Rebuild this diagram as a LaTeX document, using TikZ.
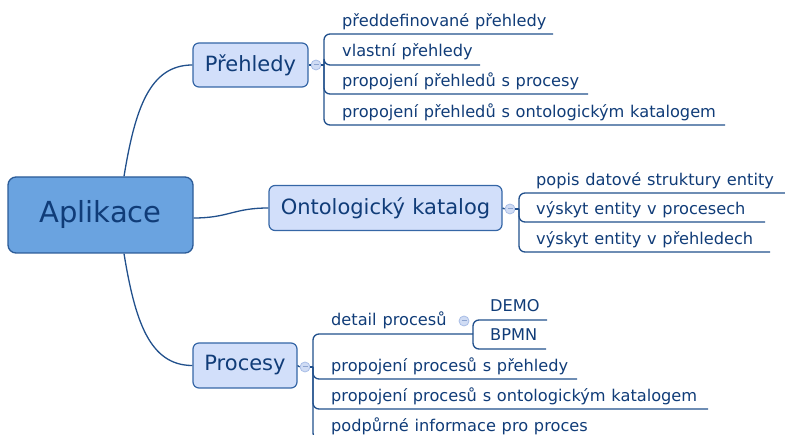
\documentclass[tikz,border=0pt]{standalone}
\usepackage{fontspec}
\setmainfont[WordSpace=1.12]{DejaVu Sans}
\definecolor{linec}{HTML}{21508C}
\definecolor{txtc}{HTML}{103C78}
\definecolor{mainfill}{HTML}{6AA3E0}
\definecolor{mainborder}{HTML}{2C5C98}
\definecolor{subfill}{HTML}{D2DFFA}
\definecolor{subborder}{HTML}{3566A6}
\definecolor{colfill}{HTML}{D0DCF4}
\definecolor{coldraw}{HTML}{A8BDE6}
\definecolor{colminus}{HTML}{8CA4D0}
\tikzset{
  mainbox/.style={draw=mainborder, fill=mainfill, line width=1.3pt, rounded corners=8pt,
    text=txtc, font=\fontsize{29}{34}\selectfont, inner sep=0pt},
  subbox/.style={draw=subborder, fill=subfill, line width=1.2pt, rounded corners=6pt,
    text=txtc, font=\fontsize{21}{25}\selectfont, inner sep=0pt},
  leaf/.style={anchor=base west, inner sep=0pt, text=txtc, font=\fontsize{16.2}{19}\selectfont},
  conn/.style={draw=linec, line width=1.3pt},
  elbow/.style={conn, rounded corners=6pt},
  collapse/.style={circle, draw=coldraw, fill=colfill, line width=0.8pt, minimum size=10pt, inner sep=0pt,
    path picture={\draw[colminus, line width=1pt] ([xshift=-2.5pt]path picture bounding box.center) -- ([xshift=2.5pt]path picture bounding box.center);}}
}
\begin{document}
\begin{tikzpicture}[x=1pt, y=-1pt]
\useasboundingbox (0,0) rectangle (785,435);
\clip (0,0) rectangle (785,435);

% main nodes
\node[mainbox, minimum width=185pt, minimum height=76pt] (apl) at (100.5,215) {Aplikace};
\node[subbox, minimum width=115pt, minimum height=44pt] (preh) at (250.5,65) {Přehledy};
\node[subbox, minimum width=233pt, minimum height=45pt] (onto) at (385.5,208) {Ontologický katalog};
\node[subbox, minimum width=104pt, minimum height=45pt] (proc) at (245,365.5) {Procesy};

% connectors from center
\draw[conn] ([xshift=23.5pt]apl.north) .. controls +(11,-67) and +(-43,0) .. (preh.west);
\draw[conn] ([xshift=23.5pt]apl.south) .. controls +(11,67) and +(-43,0) .. (proc.west);
\draw[conn] ([yshift=-3pt]apl.east) .. controls +(35,0) and +(-35,0) .. (onto.west);

% collapse buttons
\node[collapse] (c1) at (316,65) {};
\node[collapse] (c2) at (510,209) {};
\node[collapse] (c3) at (305,367) {};
\node[collapse] (c4) at (464,321) {};

% junctions
\coordinate (j1) at (324,65);
\coordinate (j2) at (519,209);
\coordinate (j3) at (313,367);
\coordinate (j4) at (473,334);

% Přehledy children
\coordinate (e11) at (553,34);
\coordinate (e12) at (480,65);
\coordinate (e13) at (588,94);
\coordinate (e14) at (725,125);
\draw[conn] (preh.east) -- (c1.west);
\draw[conn] (c1.east) -- (j1);
\foreach \e in {e11,e12,e13,e14} \draw[elbow] (j1) |- (\e);
\node[leaf] (t11) at (342,27) {předdefinované přehledy};
\node[leaf] (t12) at (342,57) {vlastní přehledy};
\node[leaf] (t13) at (342,87) {propojení přehledů s procesy};
\node[leaf] (t14) at (342,118) {propojení přehledů s ontologickým katalogem};

% Ontologický katalog children
\coordinate (e21) at (790,193);
\coordinate (e22) at (765,222);
\coordinate (e23) at (770,252);
\draw[conn] (onto.east) -- (c2.west);
\draw[conn] (c2.east) -- (j2);
\foreach \e in {e21,e22,e23} \draw[elbow] (j2) |- (\e);
\node[leaf] (t21) at (536,186) {popis datové struktury entity};
\node[leaf] (t22) at (536,215) {výskyt entity v procesech};
\node[leaf] (t23) at (536,245) {výskyt entity v přehledech};

% Procesy children
\coordinate (e32) at (577,379);
\coordinate (e33) at (708,409);
\coordinate (e34) at (610,439);
\draw[conn] (proc.east) -- (c3.west);
\draw[conn] (c3.east) -- (j3);
\foreach \e in {j4,e32,e33,e34} \draw[elbow] (j3) |- (\e);
\node[leaf] (t31) at (331,326) {detail procesů};
\node[leaf] (t32) at (331,372) {propojení procesů s přehledy};
\node[leaf] (t33) at (331,402) {propojení procesů s ontologickým katalogem};
\node[leaf] (t34) at (331,432) {podpůrné informace pro proces};

% detail procesů children
\coordinate (e41) at (547,320);
\coordinate (e42) at (546,349);
\foreach \e in {e41,e42} \draw[elbow] (j4) |- (\e);
\node[leaf] (t41) at (490,312) {DEMO};
\node[leaf] (t42) at (490,341) {BPMN};
\end{tikzpicture}
\end{document}
